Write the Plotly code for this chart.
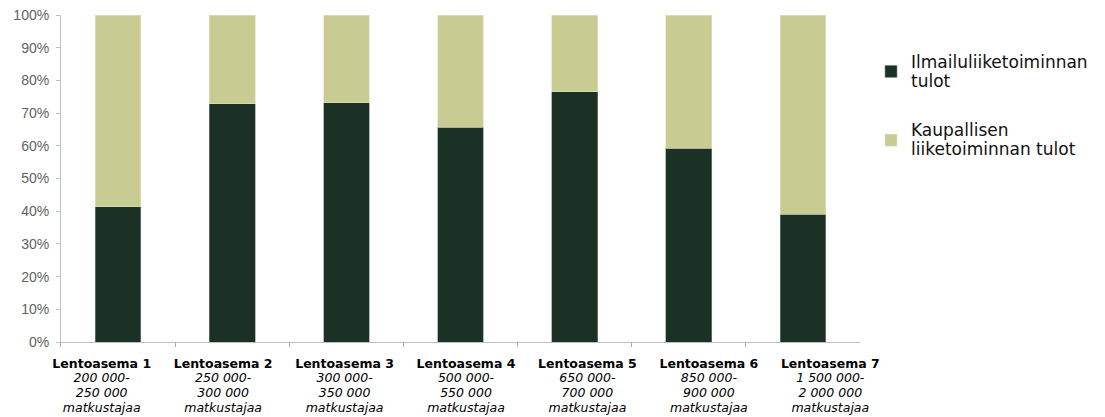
import plotly.graph_objects as go

# Airports and passenger volume ranges
airports = ["Lentoasema 1", "Lentoasema 2", "Lentoasema 3", "Lentoasema 4",
            "Lentoasema 5", "Lentoasema 6", "Lentoasema 7"]
ranges_top = ["200 000-", "250 000-", "300 000-", "500 000-",
              "650 000-", "850 000-", "1 500 000-"]
ranges_bottom = ["250 000", "300 000", "350 000", "550 000",
                 "700 000", "900 000", "2 000 000"]
unit = "matkustajaa"

# Revenue shares (%)
aviation = [41.3, 72.8, 73.1, 65.7, 76.5, 59.2, 39.0]
commercial = [round(100 - v, 1) for v in aviation]

series_names = ["Ilmailuliiketoiminnan<br>tulot", "Kaupallisen<br>liiketoiminnan tulot"]
y_ticks = list(range(0, 101, 10))
y_labels = [f"{v}%" for v in y_ticks]

DARK = "#1b3125"
LIGHT = "#c8cc93"

# Category labels: bold name plus italic passenger range, tight line spacing
span = "<span style='font-size:12.5px'>{}</span>"
tick_text = [span.format(f"<b>{a}</b>") + "<br>" + span.format(f"<i>{t}</i>") + "<br>"
             + span.format(f"<i>{b}</i>") + "<br>" + span.format(f"<i>{unit}</i>")
             for a, t, b in zip(airports, ranges_top, ranges_bottom)]

legend_span = "<span style='font-size:17px'>{}</span>"

fig = go.Figure()
# transparent copy on the label axis, so the category label row is drawn
fig.add_bar(x=airports, y=aviation, xaxis="x2", yaxis="y",
            marker=dict(color="rgba(0,0,0,0)", line=dict(width=0)),
            showlegend=False, hoverinfo="skip")
fig.add_bar(x=airports, y=aviation,
            name=legend_span.format(series_names[0]),
            marker_color=DARK, marker_line=dict(color="#7f8f86", width=0.6),
            legendgroup="a")
fig.add_bar(x=airports, y=commercial,
            name=legend_span.format(series_names[1]),
            marker_color=LIGHT, marker_line=dict(color="#dfe2c0", width=0.6),
            legendgroup="b")

fig.update_layout(
    barmode="stack",
    bargap=0.6,
    width=1105, height=417,
    margin=dict(l=41, r=212, t=15, b=75),
    paper_bgcolor="white",
    plot_bgcolor="rgba(0,0,0,0)",
    font=dict(family="DejaVu Sans", size=13, color="black"),
    legend=dict(
        x=0.9765, y=0.905, xanchor="left", yanchor="top",
        font=dict(family="DejaVu Sans", size=14.5, color="#111111"),
        traceorder="grouped", tracegroupgap=28,
        itemwidth=30,
    ),
    xaxis=dict(
        domain=[0.0235, 0.9636],
        tickson="boundaries", ticks="outside", ticklen=4, tickcolor="#a6a6a6",
        showticklabels=False,
        showline=True, linecolor="#bfbfbf", linewidth=1,
        showgrid=False, automargin=False,
    ),
    # label row below the bars, laid out slightly wider than the plot area
    xaxis2=dict(
        domain=[0, 1], anchor="y", side="bottom",
        tickmode="array", tickvals=airports, ticktext=tick_text,
        ticks="", showline=False, showgrid=False, zeroline=False,
        ticklabelstandoff=13,
        tickfont=dict(family="DejaVu Sans", size=11.5, color="black"),
        automargin=False,
    ),
    yaxis=dict(
        anchor="x",
        range=[0, 100], tickmode="array", tickvals=y_ticks, ticktext=y_labels,
        ticks="outside", ticklen=4, tickcolor="#bfbfbf",
        ticklabelstandoff=4,
        showline=True, linecolor="#bfbfbf", linewidth=1,
        tickfont=dict(family="Liberation Sans", size=14, color="#5b665e"),
        showgrid=False, zeroline=False, automargin=False,
    ),
)

fig.write_html("out.html")
